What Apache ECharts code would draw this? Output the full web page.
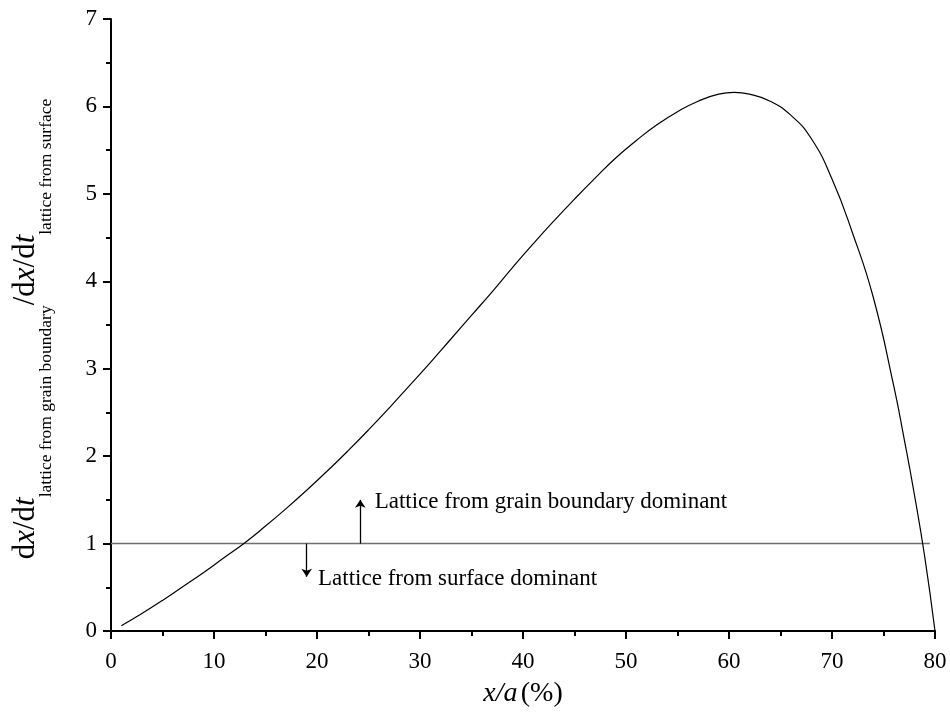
<!DOCTYPE html>
<html>
<head>
<meta charset="utf-8">
<script src="https://cdn.jsdelivr.net/npm/echarts@6/dist/echarts.min.js"></script>
<style>
  html, body { margin: 0; padding: 0; background: #fff; }
  #chart { width: 950px; height: 726px; }
</style>
</head>
<body>
<div id="chart"></div>
<script>
// curve
const ratioX = [1, 3, 5, 7, 9, 11, 13, 15, 17, 19, 21, 23, 25, 27, 29, 31, 33, 35, 37, 39,
    41, 43, 45, 47, 49, 51, 53, 55, 57, 59, 60.5, 62, 64, 66, 68, 70, 72, 74, 76, 77, 78, 79, 80];
const ratioY = [0.06, 0.20, 0.35, 0.51, 0.67, 0.84, 1.01, 1.20, 1.40, 1.61, 1.83, 2.06, 2.30, 2.55, 2.81, 3.07, 3.34, 3.61, 3.88, 4.16,
    4.43, 4.69, 4.94, 5.18, 5.41, 5.61, 5.79, 5.94, 6.06, 6.14, 6.16, 6.14, 6.06, 5.90, 5.63, 5.17, 4.55, 3.82, 2.80, 2.20, 1.56, 0.85, 0.0];

// reference level y = 1
const levelX = [0, 79.5];
const levelY = [1, 1];

// arrows: [x, fromY, toY]
const arrowUp = [24.2, 1, 1.5];
const arrowDown = [19.0, 1, 0.62];

const noteUp = "Lattice from grain boundary dominant";
const noteDown = "Lattice from surface dominant";
const noteUpAt = [25.6, 1.48];
const noteDownAt = [20.1, 0.59];

// y title pieces: [text, italic, subscript]
const yTitle = [
    ["d", false, false], ["x", true, false], ["/d", false, false], ["t", true, false],
    ["lattice from grain boundary", false, true],
    ["/d", false, false], ["x", true, false], ["/d", false, false], ["t", true, false],
    ["lattice from surface", false, true],
];

const serif = "'Liberation Serif', 'Times New Roman', serif";
const mainSize = 31;
const subSize = 17.5;
const subDrop = 16;

const chart = echarts.init(document.getElementById("chart"));

const curve = ratioX.map((x, i) => [x, ratioY[i]]);
const level = levelX.map((x, i) => [x, levelY[i]]);

// lay out the rotated y title piece by piece
const measure = document.createElement("canvas").getContext("2d");
const fontOf = (size, italic) => `${italic ? "italic " : ""}${size}px ${serif}`;
let titleWidth = 0;
const pieces = yTitle.map(([text, italic, sub]) => {
    const size = sub ? subSize : mainSize;
    measure.font = fontOf(size, italic);
    const w = measure.measureText(text).width;
    const piece = { text, italic, size, sub, at: titleWidth };
    titleWidth += w;
    return piece;
});
const titleChildren = pieces.map((p) => ({
    type: "text",
    x: p.at - titleWidth / 2,
    y: (p.sub ? subDrop : 0) - 0.3375 * p.size,
    style: {
        text: p.text,
        font: fontOf(p.size, p.italic),
        fill: "#000",
        align: "left",
        verticalAlign: "middle",
    },
}));

const tickStyle = { color: "#000", width: 2 };

chart.setOption({
    animation: false,
    backgroundColor: "#fff",
    grid: { left: 111, right: 15, top: 19, bottom: 95 },
    xAxis: {
        type: "value",
        min: 0,
        max: 80,
        interval: 10,
        name: "{i|x/a} {n|(%)}",
        nameLocation: "middle",
        nameGap: 49,
        nameTextStyle: {
            rich: {
                i: { fontFamily: serif, fontSize: 28, fontStyle: "italic", color: "#000" },
                n: { fontFamily: serif, fontSize: 28, color: "#000" },
            },
        },
        axisLine: { lineStyle: { color: "#000", width: 2 } },
        axisTick: { length: 8, lineStyle: tickStyle },
        minorTick: { show: true, splitNumber: 2, length: 5, lineStyle: tickStyle },
        axisLabel: { fontFamily: serif, fontSize: 23, color: "#000", margin: 19 },
        splitLine: { show: false },
    },
    yAxis: {
        type: "value",
        min: 0,
        max: 7,
        interval: 1,
        axisLine: { lineStyle: { color: "#000", width: 2 } },
        axisTick: { length: 8, lineStyle: tickStyle },
        minorTick: { show: true, splitNumber: 2, length: 5, lineStyle: tickStyle },
        axisLabel: { fontFamily: serif, fontSize: 23, color: "#000", margin: 14 },
        splitLine: { show: false },
    },
    graphic: [{
        type: "group",
        x: 36,
        y: 329,
        rotation: Math.PI / 2,
        children: titleChildren,
    }],
    series: [
        {
            type: "line",
            data: level,
            showSymbol: false,
            silent: true,
            lineStyle: { color: "#6f6f6f", width: 1.5 },
            markLine: {
                silent: true,
                symbol: ["none", "arrow"],
                symbolSize: 8,
                label: { show: false },
                lineStyle: { color: "#000", width: 1.3, type: "solid" },
                data: [
                    [{ coord: [arrowUp[0], arrowUp[1]] }, { coord: [arrowUp[0], arrowUp[2]] }],
                    [{ coord: [arrowDown[0], arrowDown[1]] }, { coord: [arrowDown[0], arrowDown[2]] }],
                ],
            },
            markPoint: {
                silent: true,
                symbol: "circle",
                symbolSize: 0,
                label: {
                    show: true,
                    position: "right",
                    distance: 0,
                    formatter: "{b}",
                    fontFamily: serif,
                    fontSize: 23,
                    color: "#000",
                },
                data: [
                    { name: noteUp, coord: noteUpAt },
                    { name: noteDown, coord: noteDownAt },
                ],
            },
        },
        {
            type: "line",
            data: curve,
            smooth: 0.5,
            showSymbol: false,
            silent: true,
            lineStyle: { color: "#000", width: 1.2 },
        },
    ],
});
</script>
</body>
</html>
